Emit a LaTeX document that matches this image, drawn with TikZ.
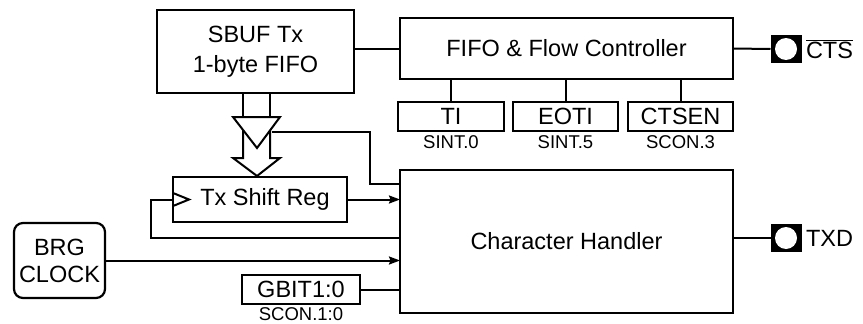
\documentclass[tikz,border=0pt]{standalone}
\usepackage{fontspec}
\setmainfont{Liberation Sans}
\usetikzlibrary{arrows.meta}
\begin{document}
\begin{tikzpicture}[x=1pt,y=-1pt,
  every node/.style={inner sep=0pt,outer sep=0pt},
  blk/.style={draw,line width=2.2pt,fill=white,font=\fontsize{23.5}{30}\selectfont,align=center},
  reg/.style={draw,line width=2pt,font=\fontsize{23.5}{26}\selectfont,minimum height=29pt},
  lbl/.style={font=\fontsize{18.5}{20}\selectfont},
  wire/.style={line width=2pt},
  arr/.style={wire,-{Stealth[length=11pt,width=8pt,inset=1.5pt]}},
  pinbox/.style={fill=black,minimum width=31pt,minimum height=28pt},
  pintxt/.style={font=\fontsize{23.5}{26}\selectfont,anchor=west}
]
\useasboundingbox (0,0) rectangle (863,324);

% blocks
\node[blk,minimum width=197pt,minimum height=83pt] (sbuf) at (255.5,51.5) {SBUF Tx\\1-byte FIFO};
\node[blk,minimum width=333pt,minimum height=61pt] (fifo) at (566.5,48.5) {FIFO \& Flow Controller};
\node[blk,minimum width=333pt,minimum height=143pt] (ch) at (566.5,241.5) {Character Handler};
\node[blk,minimum width=174pt,minimum height=45pt] (sr) at (260,199.5) {\hspace*{10pt}Tx Shift Reg};
\node[blk,rounded corners=9pt,minimum width=91pt,minimum height=75pt,font=\fontsize{23.5}{27}\selectfont] (brg) at (59.5,260.5) {BRG\\CLOCK};

% register bits
\node[reg,minimum width=106pt] (ti) at (451,116.5) {TI};
\node[reg,minimum width=105pt] (eoti) at (565.5,116.5) {EOTI};
\node[reg,minimum width=105pt] (ctsen) at (680.5,116.5) {CTSEN};
\node[reg,minimum width=118pt] (gbit) at (301,289.5) {GBIT1:0};
\node[lbl] (til) at (451,142) {SINT.0};
\node[lbl] (eotil) at (565.5,142) {SINT.5};
\node[lbl] (ctsenl) at (680.5,142) {SCON.3};
\node[lbl] (gbitl) at (301,314) {SCON.1:0};

% pins
\node[pinbox] (cts) at (786,49) {};
\fill[white] (cts.center) circle (11pt);
\node[pintxt] (ctst) at (806,49) {$\overline{\mbox{CTS}}$};
\node[pinbox] (txd) at (786,238) {};
\fill[white] (txd.center) circle (11pt);
\node[pintxt] (txdt) at (806,238) {TXD};

% connectors
\draw[wire] (sbuf.east |- fifo.west) -- (fifo.west);
\draw[wire] (fifo.south -| ti.north) -- (ti.north);
\draw[wire] (fifo.south -| eoti.north) -- (eoti.north);
\draw[wire] (fifo.south -| ctsen.north) -- (ctsen.north);
\draw[wire] (fifo.east) -- (cts.west);
\draw[wire] (ch.east |- txd.west) -- (txd.west);

\draw[arr] (sr.east) -- (sr.east -| ch.west);
\coordinate (fb) at (151,238);
\draw[wire] (fb -| ch.west) -- (fb) |- (sr.west);
\draw[arr] (brg.east) -- (brg.east -| ch.west);
\draw[wire] (gbit.east) -- (gbit.east -| ch.west);

% clock mark
\draw[wire] (sr.west |- 0,193) -- (189,199.5) -- (sr.west |- 0,206);

% tri-state buffer on the hollow bus arrow
\draw[wire] (243,93) -- (243,117);
\draw[wire] (270,93) -- (270,117);
\draw[wire,line join=miter] (233,117) -- (280,117) -- (257,148) -- cycle;
\draw[wire,line join=miter] (243,130) -- (243,158) -- (233,158) -- (257,176) -- (280,158) -- (270,158) -- (270,130.5);
\coordinate (en) at (271.5,131.5);
\coordinate (enc) at (370,131.5);
\draw[wire] (en) -- (enc) |- (ch.west |- 0,184);
\end{tikzpicture}
\end{document}
